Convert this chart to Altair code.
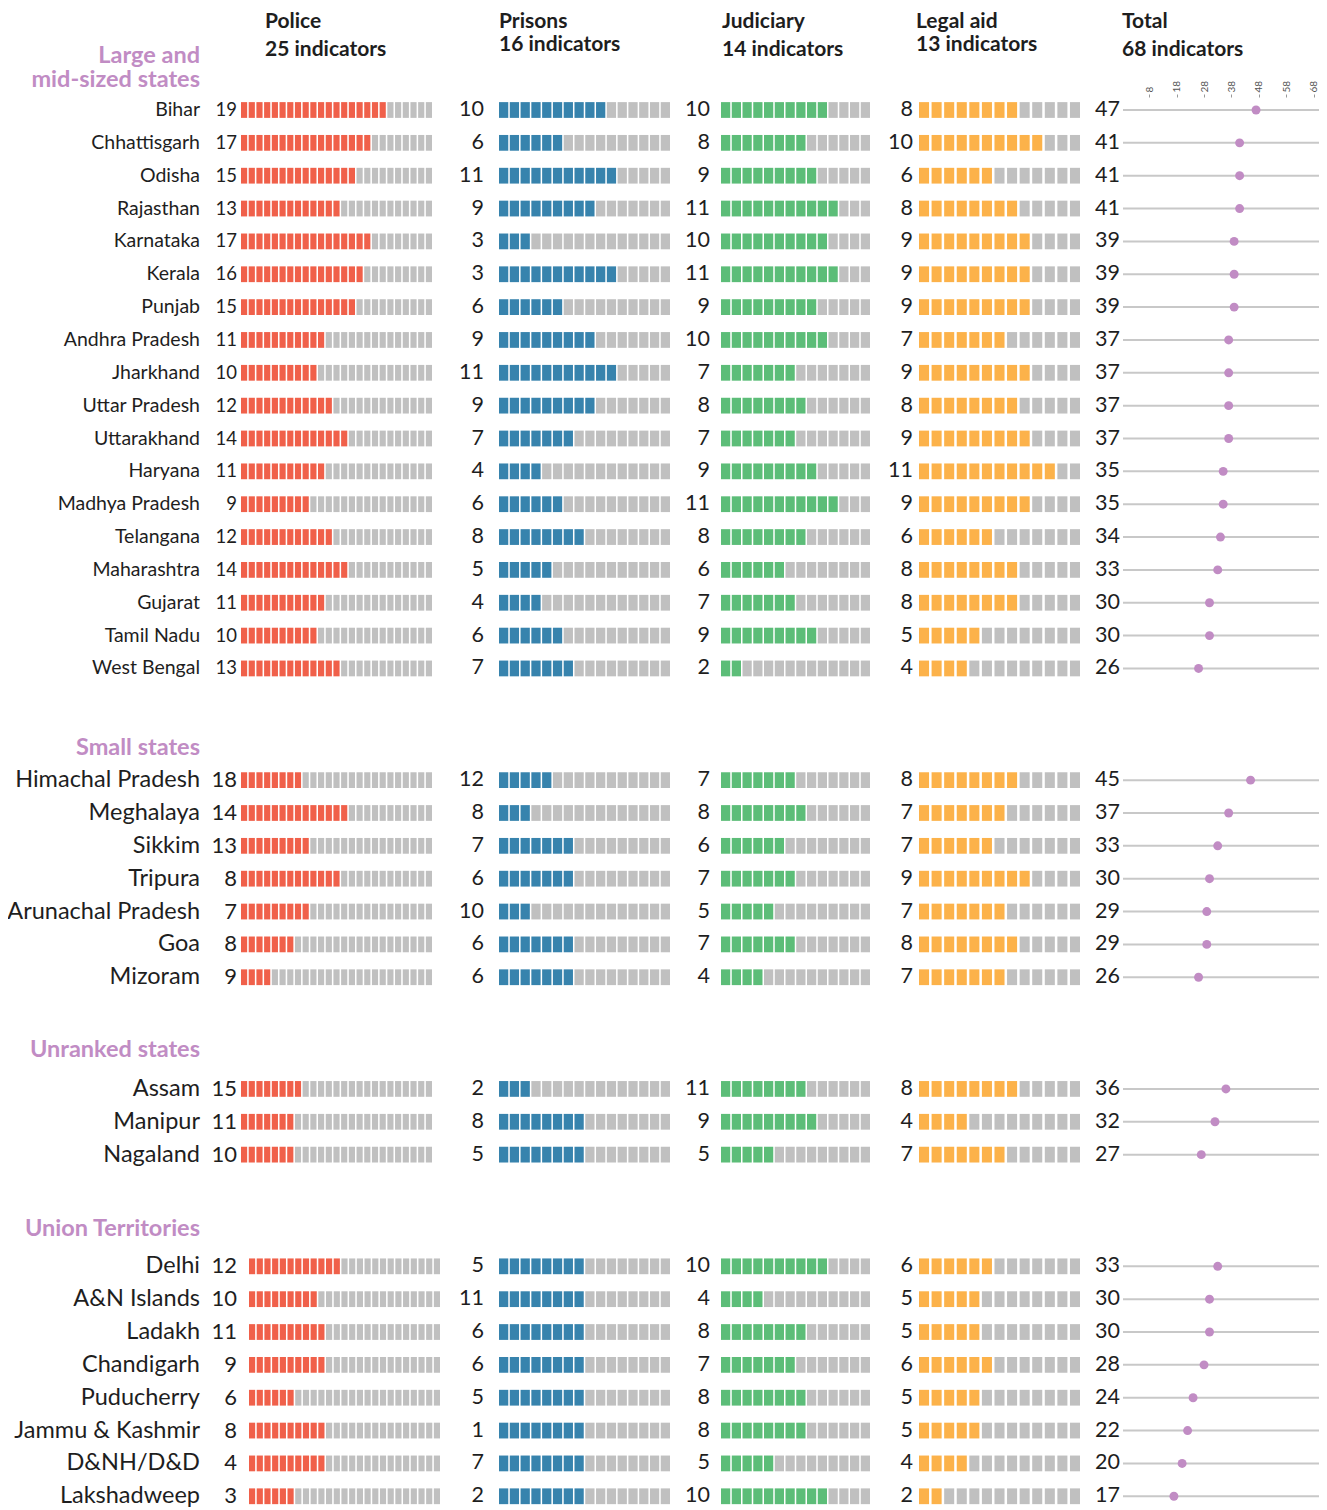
import altair as alt
import pandas as pd

# ---------------- data ----------------
LARGE_STATES = ["Bihar", "Chhattisgarh", "Odisha", "Rajasthan", "Karnataka", "Kerala",
                "Punjab", "Andhra Pradesh", "Jharkhand", "Uttar Pradesh", "Uttarakhand",
                "Haryana", "Madhya Pradesh", "Telangana", "Maharashtra", "Gujarat",
                "Tamil Nadu", "West Bengal"]
LARGE_POLICE = [19, 17, 15, 13, 17, 16, 15, 11, 10, 12, 14, 11, 9, 12, 14, 11, 10, 13]
LARGE_POLICE_CELLS = [19, 17, 15, 13, 17, 16, 15, 11, 10, 12, 14, 11, 9, 12, 14, 11, 10, 13]
LARGE_PRISONS = [10, 6, 11, 9, 3, 3, 6, 9, 11, 9, 7, 4, 6, 8, 5, 4, 6, 7]
LARGE_PRISONS_CELLS = [10, 6, 11, 9, 3, 11, 6, 9, 11, 9, 7, 4, 6, 8, 5, 4, 6, 7]
LARGE_JUDICIARY = [10, 8, 9, 11, 10, 11, 9, 10, 7, 8, 7, 9, 11, 8, 6, 7, 9, 2]
LARGE_JUDICIARY_CELLS = [10, 8, 9, 11, 10, 11, 9, 10, 7, 8, 7, 9, 11, 8, 6, 7, 9, 2]
LARGE_LEGAL = [8, 10, 6, 8, 9, 9, 9, 7, 9, 8, 9, 11, 9, 6, 8, 8, 5, 4]
LARGE_LEGAL_CELLS = [8, 10, 6, 8, 9, 9, 9, 7, 9, 8, 9, 11, 9, 6, 8, 8, 5, 4]
LARGE_TOTAL = [47, 41, 41, 41, 39, 39, 39, 37, 37, 37, 37, 35, 35, 34, 33, 30, 30, 26]

SMALL_STATES = ["Himachal Pradesh", "Meghalaya", "Sikkim", "Tripura",
                "Arunachal Pradesh", "Goa", "Mizoram"]
SMALL_POLICE = [18, 14, 13, 8, 7, 8, 9]
SMALL_POLICE_CELLS = [8, 14, 9, 13, 9, 7, 4]
SMALL_PRISONS = [12, 8, 7, 6, 10, 6, 6]
SMALL_PRISONS_CELLS = [5, 3, 7, 7, 3, 7, 7]
SMALL_JUDICIARY = [7, 8, 6, 7, 5, 7, 4]
SMALL_JUDICIARY_CELLS = [7, 8, 6, 7, 5, 7, 4]
SMALL_LEGAL = [8, 7, 7, 9, 7, 8, 7]
SMALL_LEGAL_CELLS = [8, 7, 6, 9, 7, 8, 7]
SMALL_TOTAL = [45, 37, 33, 30, 29, 29, 26]

UNRANKED_STATES = ["Assam", "Manipur", "Nagaland"]
UNRANKED_POLICE = [15, 11, 10]
UNRANKED_POLICE_CELLS = [8, 7, 7]
UNRANKED_PRISONS = [2, 8, 5]
UNRANKED_PRISONS_CELLS = [3, 8, 8]
UNRANKED_JUDICIARY = [11, 9, 5]
UNRANKED_JUDICIARY_CELLS = [8, 9, 5]
UNRANKED_LEGAL = [8, 4, 7]
UNRANKED_LEGAL_CELLS = [8, 4, 7]
UNRANKED_TOTAL = [36, 32, 27]

UT_STATES = ["Delhi", "A&N Islands", "Ladakh", "Chandigarh", "Puducherry",
             "Jammu & Kashmir", "D&NH/D&D", "Lakshadweep"]
UT_POLICE = [12, 10, 11, 9, 6, 8, 4, 3]
UT_POLICE_CELLS = [12, 9, 10, 10, 6, 10, 10, 6]
UT_PRISONS = [5, 11, 6, 6, 5, 1, 7, 2]
UT_PRISONS_CELLS = [8, 8, 8, 8, 8, 8, 8, 8]
UT_JUDICIARY = [10, 4, 8, 7, 8, 8, 5, 10]
UT_JUDICIARY_CELLS = [10, 4, 8, 7, 8, 8, 5, 10]
UT_LEGAL = [6, 5, 5, 6, 5, 5, 4, 2]
UT_LEGAL_CELLS = [6, 5, 5, 6, 5, 5, 4, 2]
UT_TOTAL = [33, 30, 30, 28, 24, 22, 20, 17]

SECTION_KEYS = ["large", "small", "unranked", "ut"]
SECTION_TITLES = ["Large and\nmid-sized states", "Small states", "Unranked states", "Union Territories"]
CATEGORIES = ["police", "prisons", "judiciary", "legal"]
CAT_INDICATORS = [25, 16, 14, 13]
HEADER_NAMES = ["Police", "Prisons", "Judiciary", "Legal aid", "Total"]
HEADER_COUNTS = [25, 16, 14, 13, 68]
TOTAL_TICKS = [8, 18, 28, 38, 48, 58, 68]

# ---------------- style / layout ----------------
FONT = "Lato"
TEXT = "#1e1e1e"
GRAY = "#c0c0c0"
LINE = "#c8c8c8"
PURPLE = "#c18cc4"
COLORS = {"police": "#f0604a", "prisons": "#3783ad", "judiciary": "#5cbd78", "legal": "#fcb24a"}

W, H = 1311, 1500
ROW = 32.85          # px per row
TOP = 102            # plot y of first row centre
SECTION_GAP = 3.4    # rows between last row of a section and first row of next
HEAD_OFFSETS = [0.69, 0.78, 0.96, 0.93]  # rows between section title baseline and first row
HEAD_LH = 24
CELL_HALF = 0.24     # half cell height in rows

LABEL_X = 192
NUM_X = {"police": 229, "prisons": 476, "judiciary": 702, "legal": 905, "total": 1112}
CELL_RANGE = {"police": [233, 424], "prisons": [491, 662], "judiciary": [713, 862], "legal": [911, 1072]}
UT_POLICE_RANGE = [241, 432]
CELL_PAD = {"police": 0.2, "prisons": 0.14, "judiciary": 0.14, "legal": 0.2}
TOTAL_DOMAIN = [-1.6, 70]
TOTAL_RANGE = [1115, 1311]

sections = [
    dict(key="large", title=SECTION_TITLES[0], states=LARGE_STATES,
         police=LARGE_POLICE, police_cells=LARGE_POLICE_CELLS,
         prisons=LARGE_PRISONS, prisons_cells=LARGE_PRISONS_CELLS,
         judiciary=LARGE_JUDICIARY, judiciary_cells=LARGE_JUDICIARY_CELLS,
         legal=LARGE_LEGAL, legal_cells=LARGE_LEGAL_CELLS, total=LARGE_TOTAL),
    dict(key="small", title=SECTION_TITLES[1], states=SMALL_STATES,
         police=SMALL_POLICE, police_cells=SMALL_POLICE_CELLS,
         prisons=SMALL_PRISONS, prisons_cells=SMALL_PRISONS_CELLS,
         judiciary=SMALL_JUDICIARY, judiciary_cells=SMALL_JUDICIARY_CELLS,
         legal=SMALL_LEGAL, legal_cells=SMALL_LEGAL_CELLS, total=SMALL_TOTAL),
    dict(key="unranked", title=SECTION_TITLES[2], states=UNRANKED_STATES,
         police=UNRANKED_POLICE, police_cells=UNRANKED_POLICE_CELLS,
         prisons=UNRANKED_PRISONS, prisons_cells=UNRANKED_PRISONS_CELLS,
         judiciary=UNRANKED_JUDICIARY, judiciary_cells=UNRANKED_JUDICIARY_CELLS,
         legal=UNRANKED_LEGAL, legal_cells=UNRANKED_LEGAL_CELLS, total=UNRANKED_TOTAL),
    dict(key="ut", title=SECTION_TITLES[3], states=UT_STATES,
         police=UT_POLICE, police_cells=UT_POLICE_CELLS,
         prisons=UT_PRISONS, prisons_cells=UT_PRISONS_CELLS,
         judiciary=UT_JUDICIARY, judiciary_cells=UT_JUDICIARY_CELLS,
         legal=UT_LEGAL, legal_cells=UT_LEGAL_CELLS, total=UT_TOTAL),
]

rows, cells, heads = [], [], []
slot = 0.0
for si, sec in enumerate(sections):
    first = slot
    nlines = sec["title"].count("\n") + 1
    heads.append({"section": sec["key"], "title": sec["title"],
                  "slot": first - HEAD_OFFSETS[si] - (nlines - 1) * HEAD_LH / ROW})
    for i, st in enumerate(sec["states"]):
        s = first + i
        r = {"section": sec["key"], "state": st, "slot": s, "total": sec["total"][i]}
        for cat, n in zip(CATEGORIES, CAT_INDICATORS):
            r[cat] = sec[cat][i]
            k = sec[cat + "_cells"][i]
            for c in range(n):
                cells.append({"section": sec["key"], "slot": s, "cat": cat,
                              "cell": c, "filled": bool(c < k)})
        rows.append(r)
    slot = first + len(sec["states"]) - 1 + SECTION_GAP

rows_df = pd.DataFrame(rows)
cells_df = pd.DataFrame(cells)
heads_df = pd.DataFrame(heads)

yscale = alt.Scale(domain=[-TOP / ROW, (H - TOP) / ROW], range=[0, H], nice=False, zero=False)


def Y(field="slot"):
    return alt.Y(f"{field}:Q", scale=yscale, axis=None)


def in_sections(keys):
    return alt.FieldOneOfPredicate(field="section", oneOf=keys)


layers = []

# column headers
HEADER_X = [257, 491, 714, 908, 1114]
HEADER_LH = [28.5, 23.5, 28.5, 23.5, 28.5]
for name, cnt, hx, lh in zip(HEADER_NAMES, HEADER_COUNTS, HEADER_X, HEADER_LH):
    layers.append(
        alt.Chart(pd.DataFrame({"t": [f"{name}\n{cnt} indicators"]}))
        .mark_text(align="left", baseline="alphabetic", font=FONT, fontSize=21,
                   fontWeight="bold", color=TEXT, lineBreak="\n", lineHeight=lh)
        .encode(x=alt.value(hx), y=alt.value(19.5), text="t:N")
    )

# section headers
layers.append(
    alt.Chart(heads_df)
    .mark_text(align="right", baseline="alphabetic", font=FONT, fontSize=23.5,
               fontWeight="bold", color=PURPLE, lineBreak="\n", lineHeight=HEAD_LH)
    .encode(x=alt.value(LABEL_X), y=Y(), text="title:N")
)

rows_src = alt.Chart(rows_df)
cells_src = alt.Chart(cells_df)

# state labels
for keys, size in [(["large"], 19.5), (["small", "unranked", "ut"], 23.5)]:
    layers.append(
        rows_src.transform_filter(in_sections(keys))
        .mark_text(align="right", baseline="middle", font=FONT, fontSize=size, color=TEXT)
        .encode(x=alt.value(LABEL_X), y=Y(), text="state:N")
    )

# numbers
for cat in CATEGORIES + ["total"]:
    if cat == "police":
        groups = [(["large"], 18.5), (["small", "unranked", "ut"], 22)]
    else:
        groups = [(SECTION_KEYS, 21.5)]
    for keys, size in groups:
        layers.append(
            rows_src.transform_filter(in_sections(keys))
            .mark_text(align="right", baseline="middle", font=FONT, fontSize=size, color=TEXT)
            .encode(x=alt.value(NUM_X[cat]), y=Y(), text=f"{cat}:Q")
        )

# waffle cells
for cat, n in zip(CATEGORIES, CAT_INDICATORS):
    groups = [(SECTION_KEYS, CELL_RANGE[cat])]
    if cat == "police":
        groups = [(["large", "small", "unranked"], CELL_RANGE[cat]), (["ut"], UT_POLICE_RANGE)]
    for keys, rng in groups:
        layers.append(
            cells_src.transform_filter(alt.datum.cat == cat)
            .transform_filter(in_sections(keys))
            .transform_calculate(y0=f"datum.slot - {CELL_HALF}", y1=f"datum.slot + {CELL_HALF}")
            .mark_rect()
            .encode(
                x=alt.X("cell:O", scale=alt.Scale(domain=list(range(n)), range=rng,
                                                 paddingInner=CELL_PAD[cat], paddingOuter=0),
                        axis=None),
                y=Y("y0"),
                y2=alt.Y2("y1"),
                color=alt.condition("datum.filled", alt.value(COLORS[cat]), alt.value(GRAY)),
            )
        )

# total: rules + dots
tscale = alt.Scale(domain=TOTAL_DOMAIN, range=TOTAL_RANGE, nice=False, zero=False)
layers.append(
    rows_src.mark_rule(color=LINE, strokeWidth=2).encode(
        x=alt.X(datum=TOTAL_DOMAIN[0], scale=tscale, axis=None),
        x2=alt.X2(datum=TOTAL_DOMAIN[1]),
        y=Y(),
    )
)
layers.append(
    rows_src.mark_circle(size=80, color=PURPLE, opacity=1).encode(
        x=alt.X("total:Q", scale=tscale,
                axis=alt.Axis(orient="top", values=TOTAL_TICKS, offset=-89, domain=False,
                              grid=False, tickSize=3, tickColor="#999", labelAngle=-90,
                              labelFontSize=10, labelColor="#555", labelFont=FONT,
                              labelPadding=2, title=None, labelOverlap=False, labelFlush=False)),
        y=Y(),
    )
)

chart = (
    alt.layer(*layers)
    .resolve_scale(x="independent")
    .properties(width=W, height=H, autosize=alt.AutoSizeParams(type="none"), padding=0)
    .configure_view(stroke=None)
)

chart.save("out.html", embed_options={"renderer": "svg", "actions": False})
